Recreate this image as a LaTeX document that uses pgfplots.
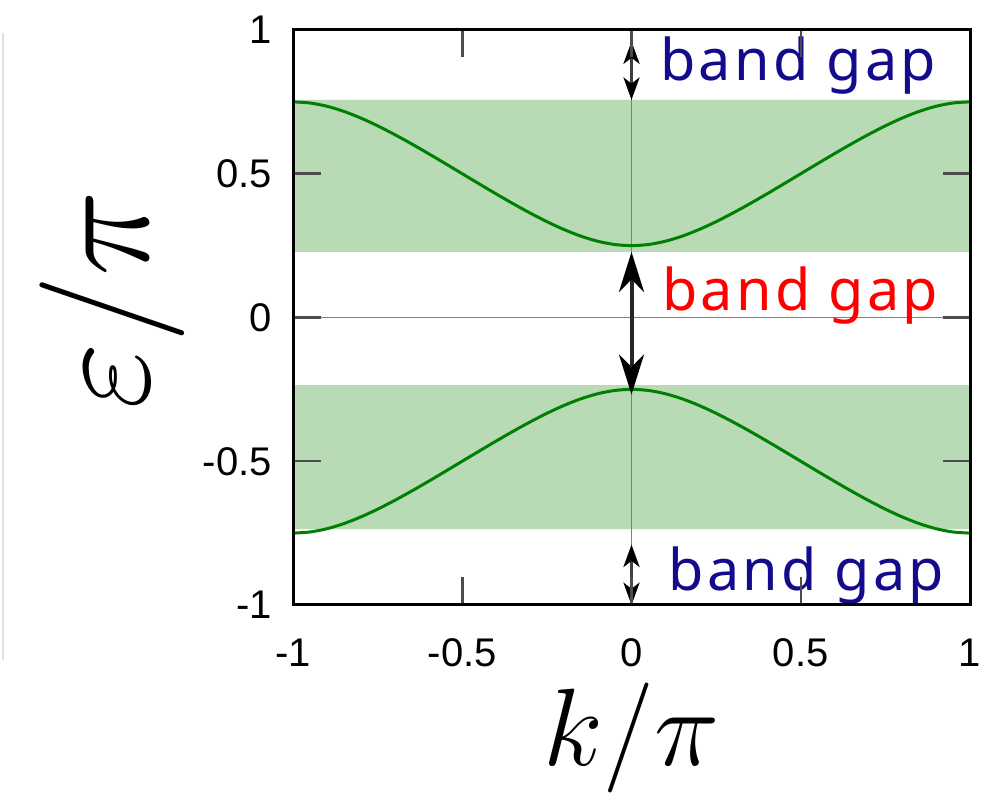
\documentclass[border=0pt]{standalone}
\usepackage{pgfplots}
\pgfplotsset{compat=1.18}
\usepackage{pgfplotstable}
\usepackage{fontspec}
\setmainfont{Liberation Sans}
\newfontfamily\gapfont[LetterSpace=5.5]{Noto Sans}
\usetikzlibrary{arrows.meta}

\definecolor{bandfill}{RGB}{184,219,182}
\definecolor{bandline}{RGB}{0,128,0}
\definecolor{gapblue}{RGB}{20,10,140}
\definecolor{gapred}{RGB}{255,0,0}

% dispersion of the two bands, eps/pi versus k/pi
\pgfplotstableread{
k      up       low
-1.00  0.75000  -0.75000
-0.95  0.74608  -0.74608
-0.90  0.73478  -0.73478
-0.85  0.71696  -0.71696
-0.80  0.69386  -0.69386
-0.75  0.66667  -0.66667
-0.70  0.63644  -0.63644
-0.65  0.60403  -0.60403
-0.60  0.57012  -0.57012
-0.55  0.53528  -0.53528
-0.50  0.50000  -0.50000
-0.45  0.46472  -0.46472
-0.40  0.42988  -0.42988
-0.35  0.39597  -0.39597
-0.30  0.36356  -0.36356
-0.25  0.33333  -0.33333
-0.20  0.30614  -0.30614
-0.15  0.28304  -0.28304
-0.10  0.26522  -0.26522
-0.05  0.25392  -0.25392
 0.00  0.25000  -0.25000
 0.05  0.25392  -0.25392
 0.10  0.26522  -0.26522
 0.15  0.28304  -0.28304
 0.20  0.30614  -0.30614
 0.25  0.33333  -0.33333
 0.30  0.36356  -0.36356
 0.35  0.39597  -0.39597
 0.40  0.42988  -0.42988
 0.45  0.46472  -0.46472
 0.50  0.50000  -0.50000
 0.55  0.53528  -0.53528
 0.60  0.57012  -0.57012
 0.65  0.60403  -0.60403
 0.70  0.63644  -0.63644
 0.75  0.66667  -0.66667
 0.80  0.69386  -0.69386
 0.85  0.71696  -0.71696
 0.90  0.73478  -0.73478
 0.95  0.74608  -0.74608
 1.00  0.75000  -0.75000
}\bands

\tikzset{
  smallgap/.style={black!75, line width=0.9pt,
    {Stealth[length=9pt,width=6.5pt,inset=2.5pt,black]}-{Stealth[length=9pt,width=6.5pt,inset=2.5pt,black]}},
  biggap/.style={black!85, line width=1.6pt,
    {Stealth[length=16pt,width=10pt,inset=5pt,black]}-{Stealth[length=16pt,width=10pt,inset=5pt,black]}},
}

\begin{document}
\begin{tikzpicture}
\begin{axis}[
  scale only axis,
  width=270.8pt, height=230pt,
  xmin=-1, xmax=1, ymin=-1, ymax=1,
  xtick={-0.5,0,0.5}, ytick={-0.5,0,0.5},
  extra x ticks={-1,1}, extra y ticks={-1,1},
  extra tick style={major tick length=0pt},
  tick align=inside,
  major tick length=11pt,
  tick style={black!70, line width=1pt},
  axis line style={line width=1.2pt},
  ticklabel style={font=\fontsize{16}{18}\selectfont},
  /pgf/number format/assume math mode=true,
  xticklabel style={yshift=-10pt},
  yticklabel style={xshift=-5pt},
  clip=false,
  axis on top,
]
% allowed energy bands
\addplot[fill=bandfill, draw=none] coordinates {(-1,0.228) (1,0.228) (1,0.757) (-1,0.757) (-1,0.228)};
\addplot[fill=bandfill, draw=none] coordinates {(-1,-0.736) (1,-0.736) (1,-0.235) (-1,-0.235) (-1,-0.736)};
% zero lines
\addplot[black!50, line width=0.7pt] coordinates {(-1,0) (1,0)};
\addplot[black!50, line width=0.7pt] coordinates {(0,-1) (0,1)};
% band curves
\addplot[bandline, line width=1.2pt, smooth] table[x=k, y=up] {\bands};
\addplot[bandline, line width=1.2pt, smooth] table[x=k, y=low] {\bands};
% gap arrows
\addplot[smallgap] coordinates {(0,0.757) (0,0.96)};
\addplot[biggap] coordinates {(0,-0.268) (0,0.228)};
\addplot[smallgap] coordinates {(0,-1) (0,-0.79)};
% labels
\node[anchor=base west, inner sep=0pt, text=gapblue, font=\gapfont\fontsize{23}{25}\selectfont] at (axis cs:0.084,0.826) {band gap};
\node[anchor=base west, inner sep=0pt, text=gapred, font=\gapfont\fontsize{23}{25}\selectfont] at (axis cs:0.090,0.026) {band gap};
\node[anchor=base west, inner sep=0pt, text=gapblue, font=\gapfont\fontsize{23}{25}\selectfont] at (axis cs:0.108,-0.948) {band gap};
% axis titles (math fonts stop at 24.88pt, so scale the node)
\node[rotate=90, scale=2.33, inner sep=0pt, font=\fontsize{24.88}{30}\selectfont] at (axis cs:-1.535,0.061) {$\varepsilon/\pi$};
\node[scale=1.77, inner sep=0pt, font=\fontsize{24.88}{30}\selectfont] at (axis cs:0.0,-1.4626) {$k/\pi$};
% faint rule on the far left
\draw[black!12, line width=1pt] (axis cs:-1.857,0.99) -- (axis cs:-1.857,-1.19);
\coordinate (bbsw) at (axis cs:-1.8656,-1.6748);
\coordinate (bbne) at (axis cs:1.062,1.1043);
\end{axis}
\pgfresetboundingbox
\path[use as bounding box] (bbsw) rectangle (bbne);
\end{tikzpicture}
\end{document}
